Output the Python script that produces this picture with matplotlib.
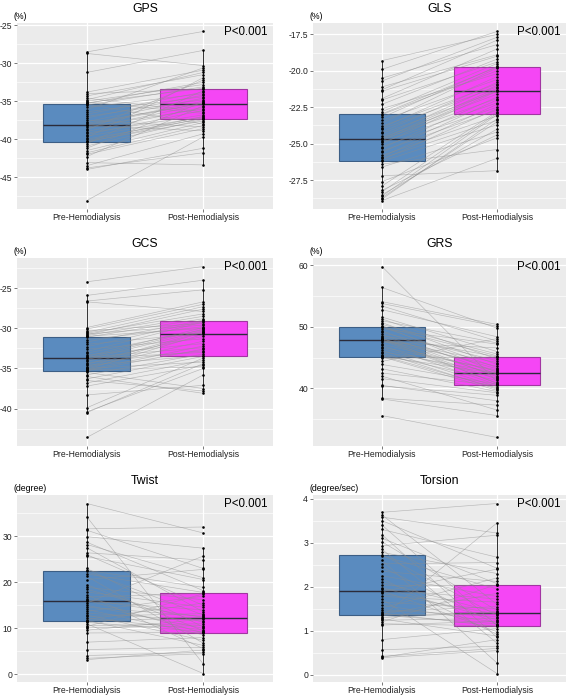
import matplotlib
matplotlib.use('Agg')
import matplotlib.pyplot as plt
from matplotlib.ticker import MultipleLocator, FormatStrFormatter

plt.rcParams['font.family'] = ['Liberation Sans', 'DejaVu Sans']
plt.rcParams['axes.unicode_minus'] = False

groups = ['Pre-Hemodialysis', 'Post-Hemodialysis']

# paired values per patient (pre[i] -> post[i])
gps_pre = [-28.5, -28.7, -31.2, -33.8, -34.0, -34.3, -34.6, -34.8, -35.0, -35.1, -35.2, -35.3,
           -35.4, -35.5, -35.8, -36.1, -36.4, -36.7, -37.0, -37.2, -37.5, -37.7, -37.9, -38.1,
           -38.2, -38.2, -38.4, -38.6, -38.8, -39.0, -39.2, -39.4, -39.6, -39.8, -40.0, -40.2,
           -40.3, -40.4, -40.6, -40.9, -41.2, -41.5, -41.8, -42.0, -42.3, -43.1, -43.5, -43.8, -44.0, -48.1]
gps_post = [-25.8, -30.3, -28.3, -30.9, -33.4, -31.5, -36.4, -31.2, -32.8, -36.6, -33.3, -32.5,
            -38.0, -33.1, -34.0, -30.6, -34.4, -33.8, -34.8, -34.2, -38.4, -34.6, -35.3, -35.0,
            -38.9, -35.2, -36.0, -35.4, -32.2, -35.8, -36.8, -36.2, -37.1, -31.9, -37.3, -37.0,
            -37.6, -37.2, -33.6, -37.4, -35.1, -37.8, -38.2, -38.6, -35.6, -43.4, -39.3, -41.8, -41.2, -39.7]

gls_pre = [-19.3, -19.9, -20.5, -20.7, -21.1, -21.3, -21.4, -21.9, -22.0, -22.3, -22.6, -22.8,
           -22.95, -23.0, -23.2, -23.4, -23.6, -23.8, -23.9, -24.0, -24.2, -24.3, -24.5, -24.6,
           -24.65, -24.7, -24.8, -24.9, -25.0, -25.2, -25.3, -25.5, -25.6, -25.8, -25.9, -26.0,
           -26.1, -26.2, -26.4, -26.6, -27.2, -27.6, -27.9, -28.2, -28.3, -28.5, -28.6, -28.7, -28.8, -28.9]
gls_post = [-17.5, -17.3, -18.2, -17.7, -18.9, -17.9, -19.0, -18.5, -19.4, -19.2, -20.2, -19.5,
            -19.75, -20.0, -19.7, -20.6, -19.8, -20.9, -20.4, -21.1, -20.8, -21.4, -21.0, -21.6,
            -21.2, -21.9, -21.3, -22.2, -21.4, -22.5, -21.8, -22.7, -22.0, -23.1, -22.3, -23.4,
            -22.6, -23.7, -25.4, -24.2, -26.85, -24.6, -22.8, -24.4, -22.9, -24.0, -23.0, -23.5, -23.3, -26.0]

gcs_pre = [-24.2, -25.9, -26.6, -26.7, -29.9, -30.1, -30.3, -30.5, -30.6, -30.7, -30.8, -30.9,
           -31.0, -31.1, -31.4, -31.7, -32.0, -32.3, -32.6, -32.9, -33.1, -33.3, -33.5, -33.6,
           -33.7, -33.75, -33.9, -34.1, -34.3, -34.5, -34.6, -34.8, -34.9, -35.0, -35.1, -35.2,
           -35.2, -35.3, -35.5, -35.8, -36.0, -36.3, -36.5, -36.8, -37.2, -38.3, -39.9, -40.4, -40.5, -43.6]
gcs_post = [-22.3, -24.0, -25.2, -27.9, -26.7, -27.0, -29.4, -27.3, -28.2, -29.6, -27.6, -28.5,
            -30.0, -28.8, -29.8, -29.0, -30.6, -29.1, -31.3, -29.2, -30.2, -31.9, -29.9, -32.4,
            -30.1, -33.0, -30.3, -31.0, -32.8, -30.4, -33.4, -30.5, -31.6, -34.2, -30.75, -32.2,
            -34.8, -32.6, -37.5, -33.2, -38.1, -33.5, -37.8, -34.0, -34.6, -37.1, -33.7, -35.0, -34.4, -35.8]

grs_pre = [59.8, 56.4, 54.1, 53.8, 53.4, 52.8, 51.6, 51.3, 51.0, 50.7, 50.4, 50.2,
           50.05, 50.0, 49.7, 49.4, 49.1, 48.8, 48.6, 48.4, 48.2, 48.1, 48.0, 47.9,
           47.85, 47.8, 47.5, 47.2, 47.0, 46.7, 46.5, 46.2, 46.0, 45.8, 45.5, 45.3,
           45.2, 45.15, 44.9, 44.4, 43.9, 43.2, 42.5, 42.0, 41.6, 40.5, 40.4, 38.4, 38.3, 35.6]
grs_post = [41.1, 49.8, 50.4, 50.1, 47.7, 48.4, 46.0, 44.8, 47.4, 43.9, 45.6, 42.6,
            45.3, 43.4, 47.2, 42.3, 44.5, 41.9, 45.15, 43.2, 40.8, 42.1, 44.2, 41.5,
            43.6, 40.9, 46.6, 42.8, 40.6, 43.0, 41.7, 40.3, 42.55, 39.9, 41.3, 40.1,
            42.45, 39.7, 45.1, 48.1, 40.7, 39.5, 40.5, 36.5, 39.3, 38.0, 38.9, 37.3, 35.6, 32.05]

twist_pre = [37.1, 34.2, 31.6, 31.3, 29.9, 28.7, 28.2, 27.5, 26.4, 26.0, 25.6, 23.0,
             22.6, 22.4, 21.8, 21.3, 20.6, 19.5, 18.9, 18.5, 17.9, 17.3, 16.8, 16.3,
             16.1, 15.9, 15.5, 15.0, 14.6, 14.1, 13.7, 13.3, 12.9, 12.6, 12.2, 11.9,
             11.7, 11.6, 11.3, 11.0, 10.6, 10.4, 10.1, 9.6, 9.0, 7.0, 5.4, 4.1, 3.5, 3.2]
twist_post = [30.7, 2.3, 32.0, 23.0, 27.4, 18.2, 21.0, 13.6, 24.8, 15.0, 20.6, 10.3,
              18.9, 12.9, 17.8, 6.8, 22.8, 9.5, 16.2, 11.3, 14.6, 5.6, 17.6, 12.4,
              9.0, 14.0, 25.7, 10.0, 12.6, 8.6, 17.0, 11.7, 7.4, 13.2, 9.7, 15.5,
              6.3, 12.3, 9.3, 0.2, 11.0, 17.5, 10.6, 12.0, 9.1, 8.0, 5.9, 4.8, 4.5, 5.3]

torsion_pre = [3.69, 3.63, 3.58, 3.50, 3.40, 3.30, 3.18, 3.10, 3.02, 2.93, 2.85, 2.78,
               2.73, 2.70, 2.60, 2.52, 2.45, 2.35, 2.25, 2.18, 2.10, 2.03, 1.98, 1.94,
               1.91, 1.89, 1.85, 1.78, 1.72, 1.65, 1.58, 1.52, 1.48, 1.43, 1.40, 1.37,
               1.36, 1.35, 1.32, 1.30, 1.27, 1.24, 1.20, 1.16, 1.13, 0.80, 0.57, 0.42, 0.40, 0.39]
torsion_post = [3.89, 1.60, 3.22, 2.42, 1.12, 2.67, 0.85, 2.07, 1.46, 3.17, 0.72, 2.30,
                1.35, 1.95, 0.27, 2.55, 1.14, 2.12, 1.78, 0.92, 1.41, 2.03, 1.25, 1.72,
                0.98, 2.40, 1.38, 1.65, 0.03, 1.50, 1.19, 2.20, 1.32, 1.55, 1.10, 1.85,
                1.40, 1.16, 3.45, 1.43, 0.88, 1.28, 2.05, 1.11, 1.22, 1.05, 0.65, 0.60, 0.80, 0.55]

titles = ['GPS', 'GLS', 'GCS', 'GRS', 'Twist', 'Torsion']
units = ['(%)', '(%)', '(%)', '(%)', '(degree)', '(degree/sec)']
tick_steps = [5, 2.5, 5, 10, 10, 1]
tick_fmts = ['%d', '%.1f', '%d', '%d', '%d', '%d']
pre_sets = [gps_pre, gls_pre, gcs_pre, grs_pre, twist_pre, torsion_pre]
post_sets = [gps_post, gls_post, gcs_post, grs_post, twist_post, torsion_post]

W, H = 567, 696
fig = plt.figure(figsize=(W / 100, H / 100), dpi=100)

# axes boxes in pixels: left, top, right, bottom
cols = [(17, 273), (313, 566)]
rows = [(23, 209), (258, 446), (495, 682)]

box_fill = ['#5A8BBF', '#F546F5']
box_edge = ['#3C5E85', '#A235A2']

for k in range(6):
    r, c = divmod(k, 2)
    x0, x1 = cols[c]
    t, b = rows[r]
    ax = fig.add_axes([x0 / W, 1 - b / H, (x1 - x0) / W, (b - t) / H])
    pre = pre_sets[k]
    post = post_sets[k]

    ax.set_facecolor('#EBEBEB')
    for s in ax.spines.values():
        s.set_visible(False)

    bp = ax.boxplot([pre, post], positions=[1, 2], widths=0.75, patch_artist=True,
                    showfliers=False, whis=1.5, zorder=2)
    for i, patch in enumerate(bp['boxes']):
        patch.set_facecolor(box_fill[i])
        patch.set_edgecolor(box_edge[i])
        patch.set_linewidth(0.8)
    for m in bp['medians']:
        m.set_color('#2b2b3a')
        m.set_linewidth(1.0)
    for w in bp['whiskers']:
        w.set_color('#333333')
        w.set_linewidth(0.7)
    for cp in bp['caps']:
        cp.set_visible(False)

    for a, b2 in zip(pre, post):
        ax.plot([1, 2], [a, b2], color='#8c8c8c', lw=0.45, alpha=0.55, zorder=3)
    ax.scatter([1] * len(pre), pre, s=3.5, color='black', zorder=4, linewidths=0)
    ax.scatter([2] * len(post), post, s=3.5, color='black', zorder=4, linewidths=0)

    lo = min(min(pre), min(post))
    hi = max(max(pre), max(post))
    pad = 0.05 * (hi - lo)
    ax.set_ylim(lo - pad, hi + pad)
    ax.set_xlim(0.4, 2.6)

    step = tick_steps[k]
    ax.yaxis.set_major_locator(MultipleLocator(step))
    ax.yaxis.set_minor_locator(MultipleLocator(step / 2))
    ax.yaxis.set_major_formatter(FormatStrFormatter(tick_fmts[k]))
    ax.set_xticks([1, 2])
    ax.set_xticklabels(groups)
    ax.set_axisbelow(True)
    ax.grid(which='major', color='white', lw=0.9)
    ax.grid(which='minor', axis='y', color='white', lw=0.45)
    ax.tick_params(which='major', labelsize=6.2, length=2, width=0.5, color='#444444',
                   pad=1.5, labelcolor='#222222')
    ax.tick_params(axis='x', pad=1)
    ax.tick_params(which='minor', length=0)

    ax.set_title(titles[k], fontsize=8.8, pad=8)
    ax.text(-4 / (x1 - x0), 1.012, units[k], transform=ax.transAxes,
            ha='left', va='bottom', fontsize=6.3)
    ax.text(0.977, 0.95, 'P<0.001', transform=ax.transAxes,
            ha='right', va='center', fontsize=8.3)

fig.savefig('out.png', dpi=100)
